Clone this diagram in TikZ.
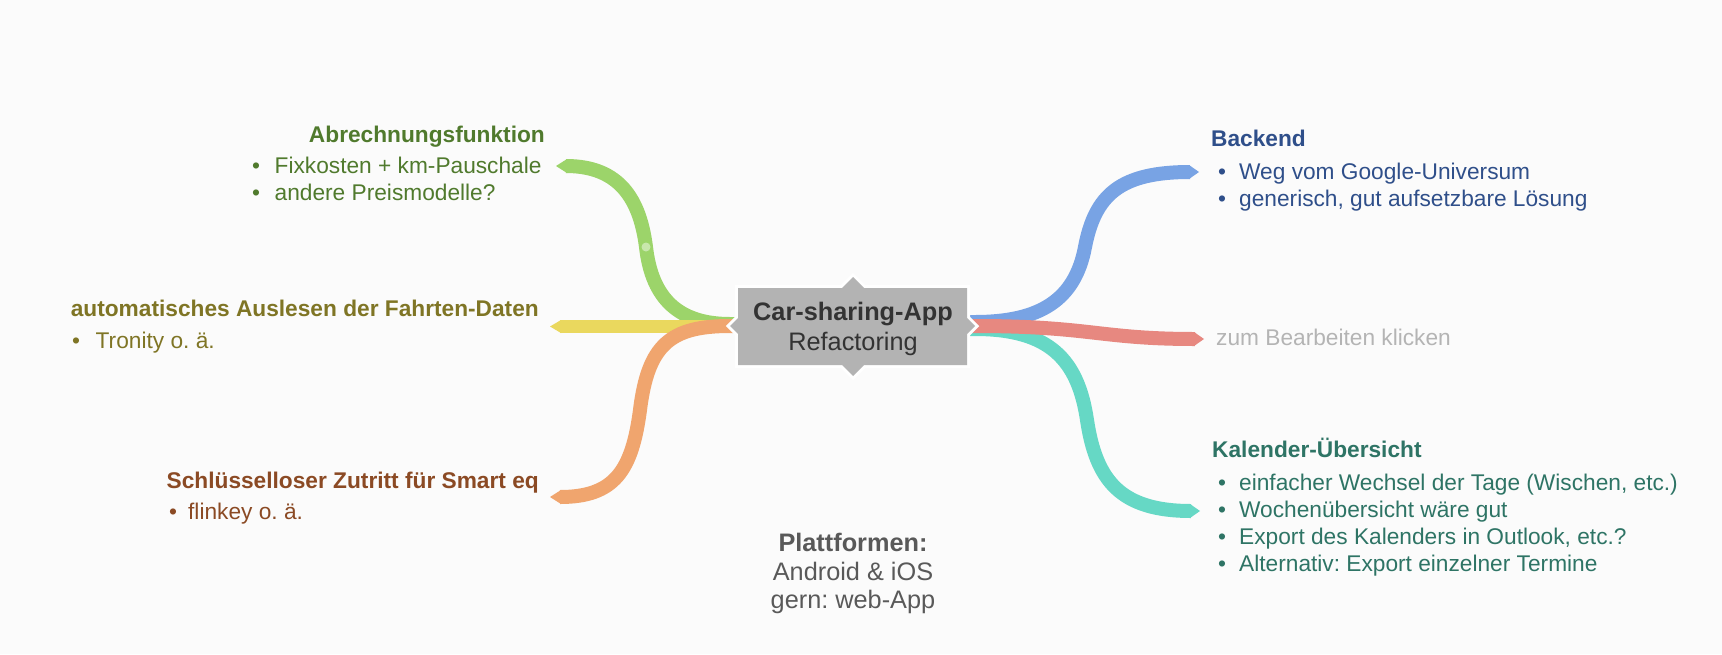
\documentclass[tikz,border=0pt]{standalone}
\usepackage{fontspec}
\setmainfont{Liberation Sans}
\definecolor{bg}{HTML}{FBFBFB}
\definecolor{cgreen}{HTML}{9CD46A}
\definecolor{cyellow}{HTML}{EAD85E}
\definecolor{corange}{HTML}{F0A56E}
\definecolor{cblue}{HTML}{78A3E4}
\definecolor{cred}{HTML}{E78880}
\definecolor{cteal}{HTML}{66D8C5}
\definecolor{tgreen}{HTML}{507A2D}
\definecolor{tyellow}{HTML}{7F7525}
\definecolor{torange}{HTML}{8B4A24}
\definecolor{tblue}{HTML}{2F4F8A}
\definecolor{tteal}{HTML}{2E7465}
\definecolor{boxgray}{HTML}{B3B3B3}
\definecolor{tcenter}{HTML}{333333}
\definecolor{tplat}{HTML}{595959}
\definecolor{thint}{HTML}{B4B4B4}
\newcommand\mybul[1]{\makebox[#1pt][l]{•}}
\begin{document}
\frenchspacing
\begin{tikzpicture}[x=1pt,y=-1pt,
  band/.style={line width=14pt, draw=#1},
  ttl/.style={inner sep=0pt, font=\fontsize{22.7}{27}\selectfont\bfseries},
  itm/.style={inner sep=0pt, font=\fontsize{22.7}{27}\selectfont},
  ctr/.style={inner sep=0pt, anchor=base, font=\fontsize{25.3}{30}\selectfont},
]
\fill[bg] (0,0) rectangle (1722,654);
\useasboundingbox (0,0) rectangle (1722,654);

% coordinates of branch ends
\coordinate (gS) at (750,324);   \coordinate (gE) at (566,166);
\coordinate (yS) at (750,326.5); \coordinate (yE) at (560,326.5);
\coordinate (oS) at (750,326);   \coordinate (oE) at (560,497);
\coordinate (bS) at (960,322);   \coordinate (bE) at (1190,172);
\coordinate (tS) at (960,329);   \coordinate (tE) at (1191,511);
\coordinate (rS) at (960,326);   \coordinate (rE) at (1195,339);

% left branches
\draw[band=cgreen] (gS) -- (730,324) .. controls (680,324) and (652,300) .. (646,247)
   .. controls (640,200) and (620,166) .. (gE);
\fill[cgreen] (567,159) -- (556,166) -- (567,173) -- cycle;
\fill[white, opacity=0.45] (646,247) circle[radius=4.5pt];
\draw[band=cyellow, line width=13pt] (yS) -- (yE);
\fill[cyellow] (561,320) -- (550,326.5) -- (561,333) -- cycle;
\draw[band=corange] (oS) -- (730,326) .. controls (670,326) and (648,345) .. (640,410)
   .. controls (632,470) and (615,497) .. (oE);
\fill[corange] (561,490) -- (550,497) -- (561,504) -- cycle;

% right branches
\draw[band=cblue] (bS) -- (975,322) .. controls (1040,322) and (1075,300) .. (1085,247)
   .. controls (1095,195) and (1120,172) .. (bE);
\fill[cblue] (1189,165) -- (1199,172) -- (1189,179) -- cycle;
\draw[band=cteal] (tS) -- (975,329) .. controls (1050,329) and (1078,360) .. (1087,420)
   .. controls (1096,480) and (1120,511) .. (tE);
\fill[cteal] (1190,504) -- (1200,511) -- (1190,518) -- cycle;
\draw[band=cred] (rS) -- (975,326) .. controls (1090,326) and (1100,339) .. (rE);
\fill[cred] (1194,332) -- (1204,339) -- (1194,346) -- cycle;

% central box
\def\boxpath{(738,288) -- (842,288) -- (853,277) -- (864,288) -- (967,288) -- (967,318)
  -- (975,326) -- (967,334) -- (967,365) -- (864,365) -- (853,376) -- (842,365)
  -- (738,365) -- (738,318) -- (730,326) -- (738,334) -- cycle}
\draw[white, line width=6pt, line join=miter] \boxpath;
\fill[boxgray] \boxpath;
\node[ctr, text=tcenter, font=\fontsize{25.3}{30}\selectfont\bfseries] (c1) at (853,320) {Car-sharing-App};
\node[ctr, text=tcenter] (c2) at (853,350.5) {Refactoring};

% green topic
\node[ttl, text=tgreen, anchor=base east] (gT) at (545,142) {Abrechnungsfunktion};
\node[itm, text=tgreen, anchor=base west] (g1) at (252,173.5) {\mybul{22.5}Fixkosten + km-Pauschale};
\node[itm, text=tgreen, anchor=base west] (g2) at (252,200.5) {\mybul{22.5}andere Preismodelle?};

% yellow topic
\node[ttl, text=tyellow, anchor=base east] (yT) at (539,316.5) {automatisches Auslesen der Fahrten-Daten};
\node[itm, text=tyellow, anchor=base west] (y1) at (72,348.5) {\mybul{23.5}Tronity o. ä.};

% orange topic
\node[ttl, text=torange, anchor=base east] (oT) at (539,488) {Schlüsselloser Zutritt für Smart eq};
\node[itm, text=torange, anchor=base west] (o1) at (169,519) {\mybul{19}flinkey o. ä.};

% blue topic
\node[ttl, text=tblue, anchor=base west] (bT) at (1211,146) {Backend};
\node[itm, text=tblue, anchor=base west] (b1) at (1218,179) {\mybul{21}Weg vom Google-Universum};
\node[itm, text=tblue, anchor=base west] (b2) at (1218,206) {\mybul{21}generisch, gut aufsetzbare Lösung};

% red topic
\node[itm, text=thint, anchor=base west] (r1) at (1216,345) {zum Bearbeiten klicken};

% teal topic
\node[ttl, text=tteal, anchor=base west] (tT) at (1212,457) {Kalender-Übersicht};
\node[itm, text=tteal, anchor=base west] (t1) at (1218,490) {\mybul{21}einfacher Wechsel der Tage (Wischen, etc.)};
\node[itm, text=tteal, anchor=base west] (t2) at (1218,517) {\mybul{21}Wochenübersicht wäre gut};
\node[itm, text=tteal, anchor=base west] (t3) at (1218,544) {\mybul{21}Export des Kalenders in Outlook, etc.?};
\node[itm, text=tteal, anchor=base west] (t4) at (1218,571) {\mybul{21}Alternativ: Export einzelner Termine};

% floating note
\node[ctr, text=tplat, font=\fontsize{25.3}{30}\selectfont\bfseries] (p1) at (853,551.5) {Plattformen:};
\node[ctr, text=tplat] (p2) at (853,580) {Android \& iOS};
\node[ctr, text=tplat] (p3) at (853,608) {gern: web-App};
\end{tikzpicture}
\end{document}
